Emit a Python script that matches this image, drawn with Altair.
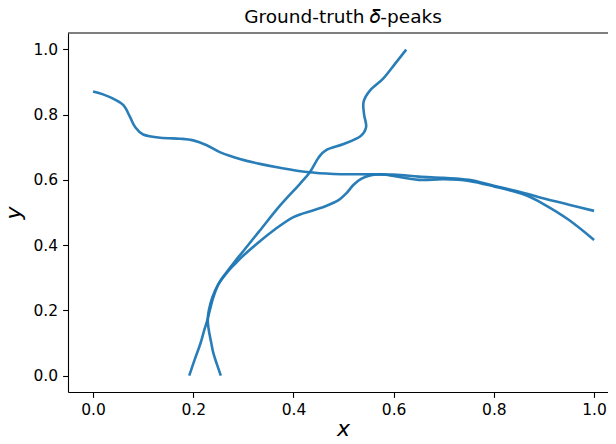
import altair as alt
import pandas as pd

# Curve 1: roughly horizontal, from left edge to right edge
c1_x = [0.000, 0.020, 0.041, 0.061, 0.074, 0.084, 0.100, 0.134, 0.174, 0.200, 0.227,
        0.253, 0.293, 0.333, 0.373, 0.427, 0.480, 0.533, 0.600,
        0.650, 0.700, 0.750, 0.800, 0.860, 0.900, 0.950, 1.000]
c1_y = [0.871, 0.862, 0.848, 0.828, 0.792, 0.762, 0.739, 0.729, 0.726, 0.721, 0.706,
        0.685, 0.664, 0.649, 0.637, 0.624, 0.618, 0.617, 0.616,
        0.610, 0.606, 0.600, 0.582, 0.560, 0.543, 0.524, 0.505]

# Curve 2: from (0.19, 0) up to (0.62, 1)
c2_x = [0.192, 0.203, 0.214, 0.222, 0.227, 0.233, 0.240, 0.250, 0.265, 0.283, 0.300,
        0.333, 0.373, 0.413, 0.433, 0.450, 0.466, 0.500, 0.533,
        0.545, 0.541, 0.540, 0.553, 0.579, 0.603, 0.625]
c2_y = [0.000, 0.050, 0.097, 0.140, 0.164, 0.200, 0.240, 0.280, 0.314, 0.350, 0.382,
        0.445, 0.521, 0.588, 0.624, 0.668, 0.692, 0.710, 0.733,
        0.762, 0.800, 0.839, 0.874, 0.910, 0.956, 0.999]

# Curve 3: from (0.255, 0) up and over to (1.0, 0.42)
c3_x = [0.255, 0.247, 0.240, 0.236, 0.231, 0.229, 0.231, 0.238, 0.250, 0.268, 0.285,
        0.300, 0.330, 0.360, 0.400, 0.440, 0.465, 0.490, 0.505, 0.520, 0.535, 0.555,
        0.575, 0.600, 0.650, 0.700, 0.750, 0.800, 0.860, 0.900, 0.950, 1.000]
c3_y = [0.000, 0.036, 0.070, 0.100, 0.140, 0.170, 0.200, 0.240, 0.280, 0.317, 0.345,
        0.368, 0.408, 0.445, 0.486, 0.507, 0.520, 0.538, 0.558, 0.585, 0.603, 0.614,
        0.617, 0.612, 0.600, 0.602, 0.597, 0.580, 0.555, 0.525, 0.477, 0.416]

ticks = [0.0, 0.2, 0.4, 0.6, 0.8, 1.0]

rows = []
for name, xs, ys in (("c1", c1_x, c1_y), ("c2", c2_x, c2_y), ("c3", c3_x, c3_y)):
    for i, (a, b) in enumerate(zip(xs, ys)):
        rows.append({"curve": name, "order": i, "x": a, "y": b})
df = pd.DataFrame(rows)

W, H = 540, 359
FONT = "DejaVu Sans"

xscale = alt.Scale(domain=[-0.05, 1.0278], nice=False, zero=False)
yscale = alt.Scale(domain=[-0.05, 1.05], nice=False, zero=False)

axis_common = dict(
    values=ticks, format=".1f", grid=False, domainColor="black", tickColor="black",
    labelColor="black", labelFont=FONT, labelFontSize=15.5, tickSize=5.4,
    labelPadding=5, domainWidth=1.1, tickWidth=1.1, titleFont=FONT, titleFontSize=22,
    titleColor="black", titleFontStyle="italic", titleFontWeight="normal",
    titleBaseline="alphabetic",
)

lines = alt.Chart(df).mark_line(
    color="#1f77b4", strokeWidth=2.6, interpolate="cardinal", opacity=0.95
).encode(
    x=alt.X("x:Q", scale=xscale,
            axis=alt.Axis(title="x", titleX=275, titleY=43, titleAlign="center", **axis_common)),
    y=alt.Y("y:Q", scale=yscale,
            axis=alt.Axis(title="y", titleX=-48, titleY=H / 2, titleAngle=270,
                          titleAlign="center", **axis_common)),
    detail="curve:N",
    order="order:Q",
)

top_spine = alt.Chart(pd.DataFrame({"a": [0]})).mark_rule(color="black", strokeWidth=1.1).encode(
    x=alt.value(0), x2=alt.value(W), y=alt.value(0)
)

chart = alt.layer(lines, top_spine).properties(
    width=W, height=H,
    title=alt.TitleParams(
        text="Ground-truth 𝛿-peaks", font=FONT, fontSize=18.5, fontWeight="normal",
        color="black", anchor="middle", offset=6, dx=5,
    ),
    autosize=alt.AutoSizeParams(type="none"),
    padding={"left": 60, "top": 25, "right": 0, "bottom": 44},
).configure_view(stroke=None)

chart.save("out.html", embed_options={"renderer": "svg", "actions": False})
